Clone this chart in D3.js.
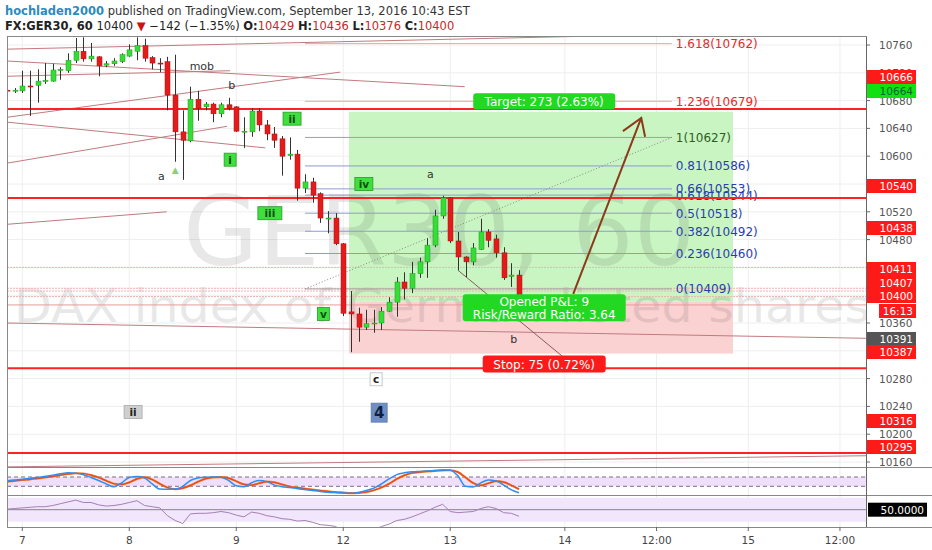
<!DOCTYPE html>
<html><head><meta charset="utf-8">
<script src="https://cdn.jsdelivr.net/npm/d3@7"></script>
<style>body{margin:0;background:#fff}svg{display:block}text{font-family:"DejaVu Sans",Verdana,sans-serif}</style>
</head><body><svg id="c" width="932" height="550"></svg>
<script>
// ---------- DATA ----------
const dayTicks = [[2,"7"],[16,"8"],[30,"9"],[44,"12"],[58,"13"],[73,"14"],[85,"12:00"],[97,"15"],[109,"12:00"]];
const priceTicks = [10760,10720,10680,10640,10600,10560,10520,10480,10440,10400,10360,10320,10280,10240,10200,10160];
// [open, high, low, close] hourly bars
const ohlc = [
[10695,10697,10692,10694],[10694,10698,10691,10695],[10694,10723,10691,10701],[10701,10723,10658,10700],
[10702,10725,10677,10708],[10708,10734,10704,10709],[10708,10733,10707,10724],[10724,10728,10710,10725],
[10723,10748,10720,10738],[10738,10770,10734,10751],[10751,10771,10736,10740],[10740,10763,10736,10744],
[10743,10744,10715,10730],[10731,10737,10728,10733],[10733,10741,10730,10737],[10736,10748,10734,10746],
[10744,10761,10743,10753],[10751,10771,10738,10759],[10759,10769,10736,10741],[10742,10744,10725,10734],
[10734,10741,10721,10733],[10736,10743,10666,10688],[10688,10746,10592,10635],[10635,10666,10566,10623],
[10622,10700,10620,10682],[10682,10694,10651,10669],[10671,10678,10666,10675],[10675,10677,10649,10661],
[10661,10677,10656,10674],[10674,10684,10666,10669],[10671,10672,10635,10636],[10635,10656,10612,10636],
[10635,10669,10628,10665],[10665,10669,10636,10645],[10645,10652,10623,10632],[10632,10642,10612,10623],
[10625,10629,10572,10600],[10601,10627,10595,10603],[10603,10609,10536,10554],[10554,10574,10547,10563],
[10563,10569,10533,10544],[10546,10548,10504,10511],[10510,10521,10489,10511],[10511,10518,10472,10474],
[10474,10475,10370,10374],[10376,10406,10318,10373],[10373,10382,10333,10354],[10354,10379,10350,10359],
[10359,10379,10346,10360],[10360,10383,10350,10377],[10377,10397,10376,10390],[10390,10426,10369,10419],
[10419,10433,10394,10410],[10410,10448,10403,10431],[10431,10454,10425,10448],[10448,10482,10425,10472],
[10472,10523,10469,10514],[10514,10543,10510,10540],[10540,10541,10475,10478],[10478,10491,10436,10455],
[10455,10456,10426,10448],[10448,10475,10443,10468],[10466,10510,10465,10491],[10491,10495,10469,10479],
[10481,10487,10454,10461],[10461,10469,10422,10425],[10427,10446,10412,10429],[10429,10436,10376,10400]];
const stochK = [54,57,60,64,68,73,78,84,88,86,80,68,55,40,28,45,68,72,66,40,18,17,18,30,55,66,69,70,69,55,32,28,45,55,50,35,28,25,20,16,12,8,5,3,1,0,4,12,22,40,62,80,88,92,94,96,98,100,99,75,30,27,45,57,53,35,15,2];
const stochD = [50,53,57,60,64,68,73,78,83,86,85,78,68,54,41,38,47,62,69,59,41,25,18,22,34,50,63,68,69,65,52,38,35,43,50,47,38,29,24,20,16,12,8,5,3,1,2,5,13,25,41,61,77,87,91,94,96,98,99,91,68,44,34,43,52,48,34,17];
const rsi = [51,52,53,54,55,55,57,60,63,66,62,62,58,56,57,59,62,65,57,55,53,40,32,27,43,44,44,45,47,45,41,38,46,44,40,38,35,34,31,32,29,25,24,22,14,13,12,13,16,22,26,32,34,38,43,48,54,59,47,45,46,47,52,55,52,45,44,39];
const redLevels = [10668,10540,10295,10173];
const pinkLevels = [10440,10410,10406,10398,10386];
const fibRatios = ["1.618","1.236","1","0.81","0.66","0.618","0.5","0.382","0.236","0"];
const fibPrices = [10762,10679,10627,10586,10553,10544,10518,10492,10460,10409];
// trend lines: [bar1, price1, bar2, price2]
const trendLines = [[0,10754,77.3,10773],[0,10737,59.9,10700],[0,10715,29.2,10723],[0,10656,43.6,10721],
  [0,10649,33.8,10612],[0,10590,28.8,10643],[0,10502,20.9,10520],[0,10360,112.4,10338],[0,10153,112.4,10169]];
const waveLine = [59,10436,72.8,10311];
const fibTrend = [39,10409,87,10627];
const position = {startBar:44.75, endBar:95, entry:10391, target:10664, stop:10316};
const arrow = {from:[74.1,10402], tip:[83,10655], head1:[80.6,10636], head2:[83.5,10628]};
const tagTexts = ["10666","10664","10540","10438","10411","10407","10400","16:13","10391","10387","10316","10295"];
const tagKinds = ["red","green","red","red","red","red","red","red","gray","red","red","red"];
// annotations: [bar, price, text, kind]
const notes = [[25.5,10730,"mob","txt"],[29.4,10702,"b","txt"],[20.2,10572,"a","txt"],[22,10582,"▲","tri"],
  [29.2,10595,"i","g"],[37.3,10654,"ii","g"],[34.4,10518,"iii","g"],[46.7,10560,"iv","g"],[41.4,10373,"v","g"],
  [55.4,10575,"a","txt"],[66.3,10337,"b","txt"],[48.3,10279,"c","w"],[16.5,10232,"ii","gr"],[48.7,10231,"4","blue"]];

// ---------- LAYOUT ----------
const L = {left:7, right:866, top:37, mainBot:467, stTop:468, stBot:495, rsTop:496, rsBot:527};
const tagSlots = [77,91,186,228,269,283,296,311,339,352,421,447];

const svg = d3.select("#c");
const x = d3.scaleLinear().domain([0,67]).range([7,519]);
const y = d3.scaleLinear().domain([10160,10760]).range([462,45]);
const ys = d3.scaleLinear().domain([0,100]).range([493.3,470]);
const yr = d3.scaleLinear().domain([30,70]).range([521.7,497.7]);

svg.append("rect").attr("width",932).attr("height",550).attr("fill","#fff");
const defs = svg.append("defs");
defs.append("clipPath").attr("id","cm").append("rect").attr("x",L.left).attr("y",L.top).attr("width",L.right-L.left).attr("height",L.mainBot-L.top);
defs.append("clipPath").attr("id","cs").append("rect").attr("x",L.left).attr("y",L.stTop).attr("width",L.right-L.left).attr("height",L.stBot-L.stTop);
defs.append("clipPath").attr("id","cr").append("rect").attr("x",L.left).attr("y",L.rsTop).attr("width",L.right-L.left).attr("height",L.rsBot-L.rsTop);

// header
const h1 = svg.append("text").attr("x",5).attr("y",15).attr("font-size",11.5).attr("fill","#333");
h1.append("tspan").attr("font-weight","bold").attr("fill","#2b8bbf").text("hochladen2000");
h1.append("tspan").text(" published on TradingView.com, September 13, 2016 10:43 EST");
const h2 = svg.append("text").attr("x",5).attr("y",30).attr("font-size",11.5).attr("fill","#222");
h2.append("tspan").attr("font-weight","bold").text("FX:GER30, 60");
h2.append("tspan").text(" 10400 ");
h2.append("tspan").attr("fill","#d01010").text("▼");
h2.append("tspan").text(" −142 (−1.35%) ");
[["O:","10429"],["H:","10436"],["L:","10376"],["C:","10400"]].forEach(([k,v])=>{
  h2.append("tspan").attr("font-weight","bold").text(k);
  h2.append("tspan").attr("fill","#c62828").text(v+" ");
});

// grid
const grid = svg.append("g");
priceTicks.forEach(p=>grid.append("line").attr("x1",L.left).attr("x2",L.right).attr("y1",y(p)).attr("y2",y(p)).attr("stroke","#eeeeee"));
dayTicks.forEach(([b])=>grid.append("line").attr("x1",x(b)).attr("x2",x(b)).attr("y1",L.top).attr("y2",L.rsBot).attr("stroke","#eeeeee"));

// main pane
const m = svg.append("g").attr("clip-path","url(#cm)");

// position zones
m.append("rect").attr("x",x(position.startBar)).attr("width",x(position.endBar)-x(position.startBar))
  .attr("y",y(position.target)).attr("height",y(position.entry)-y(position.target)).attr("fill","#c9f5c2");
m.append("rect").attr("x",x(position.startBar)).attr("width",x(position.endBar)-x(position.startBar))
  .attr("y",y(position.entry)).attr("height",y(position.stop)-y(position.entry)).attr("fill","#fbd2d2");

// watermark (drawn over the zones, as in the reference)
m.append("text").attr("x",183).attr("y",265).attr("font-size",97).attr("fill","#000").attr("opacity",0.085)
  .text("GER30, 60");
m.append("text").attr("x",14).attr("y",322).attr("font-size",46).attr("fill","#000").attr("opacity",0.085)
  .attr("textLength",856).attr("lengthAdjust","spacingAndGlyphs").text("DAX index of German listed shares");

// pink price lines
pinkLevels.forEach((p,i)=>m.append("line").attr("x1",L.left).attr("x2",L.right).attr("y1",y(p)).attr("y2",y(p))
  .attr("stroke",i===4?"#e99a9a":"#f0b0b0").attr("stroke-width",1).attr("stroke-dasharray",i===4?null:"2,1"));

// trend lines
trendLines.forEach(t=>m.append("line").attr("x1",x(t[0])).attr("y1",y(t[1])).attr("x2",x(t[2])).attr("y2",y(t[3]))
  .attr("stroke","#c27a7e").attr("stroke-width",1));

// fib
const fibColors = fibRatios.map(r=> (r==="1.618"||r==="1.236")?"#f0a3a3":(r==="1"||r==="0")?"#a0a0a0":"#8f9bd0");
const fibText = fibRatios.map(r=> (r==="1.618"||r==="1.236")?"#e82a2a":(r==="1")?"#2e5e1e":"#2a3db0");
fibPrices.forEach((p,i)=>{
  m.append("line").attr("x1",x(fibTrend[0])).attr("x2",x(fibTrend[2])).attr("y1",y(p)).attr("y2",y(p)).attr("stroke",fibColors[i]);
  m.append("text").attr("x",x(fibTrend[2])+4).attr("y",y(p)+4.5).attr("font-size",12).attr("fill",fibText[i]).text(fibRatios[i]+"("+p+")");
});
m.append("line").attr("x1",x(fibTrend[0])).attr("y1",y(fibTrend[1])).attr("x2",x(fibTrend[2])).attr("y2",y(fibTrend[3]))
  .attr("stroke","#888").attr("stroke-dasharray","1,2");

// red levels
redLevels.forEach(p=>m.append("line").attr("x1",L.left).attr("x2",L.right).attr("y1",y(p)).attr("y2",y(p)).attr("stroke","#ff2222").attr("stroke-width",2));

// wave b line
m.append("line").attr("x1",x(waveLine[0])).attr("y1",y(waveLine[1])).attr("x2",x(waveLine[2])).attr("y2",y(waveLine[3])).attr("stroke","#8a5a5a");

// candles
const cw = 5;
const cg = m.append("g");
ohlc.forEach((d,i)=>{
  const [o,h,l,c] = d, up = c>=o, cx = Math.round(x(i))+0.5;
  cg.append("line").attr("x1",cx).attr("x2",cx).attr("y1",y(h)).attr("y2",y(l)).attr("stroke","#333");
  const top = y(Math.max(o,c)), bh = Math.max(1,y(Math.min(o,c))-top);
  cg.append("rect").attr("x",cx-cw/2).attr("width",cw).attr("y",top).attr("height",bh)
    .attr("fill",up?"#36dd36":"#e51b1b").attr("stroke",up?"#1f9a1f":"#a81010").attr("stroke-width",0.5);
});

// arrow
const ap = (a)=>[x(a[0]),y(a[1])];
m.append("line").attr("x1",ap(arrow.from)[0]).attr("y1",ap(arrow.from)[1]).attr("x2",ap(arrow.tip)[0]).attr("y2",ap(arrow.tip)[1]).attr("stroke","#8b3a1a").attr("stroke-width",2);
m.append("polyline").attr("points",[ap(arrow.head1),ap(arrow.tip),ap(arrow.head2)].map(p=>p.join(",")).join(" "))
  .attr("fill","none").attr("stroke","#8b3a1a").attr("stroke-width",2);

// annotations
notes.forEach(([b,p,t,k])=>{
  const nx = x(b), ny = y(p);
  if(k==="txt"){ m.append("text").attr("x",nx).attr("y",ny+4).attr("text-anchor","middle").attr("font-size",11).attr("fill","#333").text(t); return; }
  if(k==="tri"){ m.append("text").attr("x",nx).attr("y",ny+4).attr("text-anchor","middle").attr("font-size",9).attr("fill","#8cd17a").text(t); return; }
  const fs = k==="blue"?15:10.5;
  const w = t.length*(k==="blue"?10:6)+6, hgt = k==="blue"?19:13;
  const st = {g:["#3ee03e","#2a9a2a","#124d12"],w:["#fff","#bbb","#222"],gr:["#cfcfcf","#aaa","#222"],blue:["#6f8fc4","#5a78aa","#0f1f40"]}[k];
  m.append("rect").attr("x",nx-w/2).attr("y",ny-hgt/2).attr("width",w).attr("height",hgt).attr("fill",st[0]).attr("stroke",st[1]).attr("stroke-width",0.8);
  m.append("text").attr("x",nx).attr("y",ny+(k==="blue"?5.5:4)).attr("text-anchor","middle").attr("font-size",fs).attr("font-weight","bold").attr("fill",st[2]).text(t);
});

// position labels
function badge(cx, cy, w, h, fill, lines){
  m.append("rect").attr("x",cx-w/2).attr("y",cy-h/2).attr("width",w).attr("height",h).attr("rx",3).attr("fill",fill);
  lines.forEach((t,i)=>m.append("text").attr("x",cx).attr("y",cy-(lines.length-1)*6.5+i*13+4.5).attr("text-anchor","middle")
    .attr("font-size",12).attr("fill","#fff").text(t));
}
badge(x(70.3), y(10679), 142, 16, "#22d822", ["Target: 273 (2.63%)"]);
badge(x(70.3), y(10382), 163, 27, "#22d822", ["Opened P&L: 9","Risk/Reward Ratio: 3.64"]);
badge(x(70.3), y(10301), 123, 17, "#ff1a1a", ["Stop: 75 (0.72%)"]);

// stoch pane
const s = svg.append("g").attr("clip-path","url(#cs)");
s.append("rect").attr("x",L.left).attr("width",L.right-L.left).attr("y",ys(70)).attr("height",ys(30)-ys(70)).attr("fill","#efdffa");
[70,30].forEach(v=>s.append("line").attr("x1",L.left).attr("x2",L.right).attr("y1",ys(v)).attr("y2",ys(v)).attr("stroke","#7d6b8f").attr("stroke-dasharray","4,3"));
const lineS = d3.line().x((d,i)=>x(i)).y(d=>ys(d)).curve(d3.curveMonotoneX);
s.append("path").attr("d",lineS(stochD)).attr("fill","none").attr("stroke","#f08a24").attr("stroke-width",2.2);
s.append("path").attr("d",lineS(stochD)).attr("fill","none").attr("stroke","#e8452a").attr("stroke-width",1.2);
s.append("path").attr("d",lineS(stochK)).attr("fill","none").attr("stroke","#2f8ef0").attr("stroke-width",1.5);

// rsi pane
const r = svg.append("g").attr("clip-path","url(#cr)");
r.append("rect").attr("x",L.left).attr("width",L.right-L.left).attr("y",yr(70)).attr("height",yr(30)-yr(70)).attr("fill","#f1e6fb");
r.append("line").attr("x1",L.left).attr("x2",L.right).attr("y1",yr(50)).attr("y2",yr(50)).attr("stroke","#8a7f90");
r.append("path").attr("d",d3.line().x((d,i)=>x(i)).y(d=>yr(d))(rsi)).attr("fill","none").attr("stroke","#a57fb5").attr("stroke-width",1);

// frames
const fr = svg.append("g").attr("stroke","#888").attr("fill","none");
fr.append("rect").attr("x",L.left+0.5).attr("y",L.top-0.5).attr("width",L.right-L.left).attr("height",L.rsBot-L.top+1);
[L.mainBot+0.5,L.stBot+0.5].forEach(v=>fr.append("line").attr("x1",L.left).attr("x2",932).attr("y1",v).attr("y2",v));
fr.append("line").attr("x1",L.left).attr("x2",932).attr("y1",L.rsBot+0.5).attr("y2",L.rsBot+0.5);

// price axis
const ax = svg.append("g");
priceTicks.forEach(p=>{
  ax.append("line").attr("x1",L.right).attr("x2",L.right+4).attr("y1",y(p)).attr("y2",y(p)).attr("stroke","#666");
  ax.append("text").attr("x",L.right+13).attr("y",y(p)+4).attr("font-size",10.5).attr("fill","#555").text(p);
});
tagTexts.forEach((t,i)=>{
  const k = tagKinds[i], cy = tagSlots[i];
  const fill = k==="red"?"#ff1a1a":k==="green"?"#11e011":"#555";
  const x0 = t.includes(":")?L.right+13:L.right+1;
  ax.append("rect").attr("x",x0).attr("y",cy-7).attr("width",916-x0).attr("height",14).attr("fill",fill);
  ax.append("text").attr("x",916-3).attr("y",cy+4).attr("text-anchor","end").attr("font-size",10.5).attr("fill",k==="green"?"#063":"#fff").text(t);
});
ax.append("rect").attr("x",L.right+2).attr("y",yr(50)-7).attr("width",59).attr("height",14).attr("fill","#000");
ax.append("text").attr("x",L.right+58).attr("y",yr(50)+4).attr("text-anchor","end").attr("font-size",10.5).attr("fill","#fff").text("50.0000");
svg.append("line").attr("x1",L.right+0.5).attr("x2",L.right+0.5).attr("y1",L.top).attr("y2",L.rsBot).attr("stroke","#666");

// time axis
dayTicks.forEach(([b,t])=>{
  svg.append("line").attr("x1",x(b)).attr("x2",x(b)).attr("y1",L.rsBot).attr("y2",L.rsBot+4).attr("stroke","#666");
  svg.append("text").attr("x",x(b)).attr("y",L.rsBot+17).attr("text-anchor","middle").attr("font-size",10.5).attr("fill","#444").text(t);
});
</script></body></html>
